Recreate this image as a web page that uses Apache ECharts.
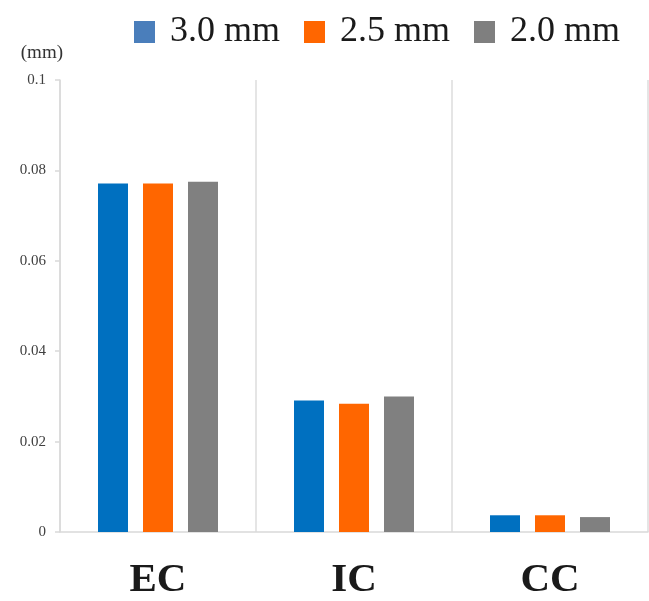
<!DOCTYPE html>
<html>
<head>
<meta charset="utf-8">
<script src="https://cdn.jsdelivr.net/npm/echarts@6/dist/echarts.min.js"></script>
<style>
html,body{margin:0;padding:0;background:#fff;}
#chart{width:649px;height:601px;}
</style>
</head>
<body>
<div id="chart"></div>
<script>
var categories = ['EC', 'IC', 'CC'];
var seriesNames = ['3.0 mm', '2.5 mm', '2.0 mm'];
var values30 = [0.0771, 0.0291, 0.0037];
var values25 = [0.0771, 0.0284, 0.0037];
var values20 = [0.0775, 0.0300, 0.0033];
var yTicks = [0, 0.02, 0.04, 0.06, 0.08, 0.1];

var barColors = ['#0070C0', '#FF6600', '#808080'];
var legendColors = ['#4A7EBB', '#FF6600', '#7F7F7F'];
var serif = '"Liberation Serif", "DejaVu Serif", serif';

var chart = echarts.init(document.getElementById('chart'));
var allValues = [values30, values25, values20];
chart.setOption({
  animation: false,
  backgroundColor: '#ffffff',
  legend: {
    left: 129, top: 9,
    itemWidth: 21, itemHeight: 22, itemGap: 24,
    icon: 'rect',
    textStyle: { fontFamily: serif, fontSize: 36, color: '#1a1a1a', padding: [0, 0, 0, 10] },
    data: seriesNames.map(function (n, i) { return { name: n, itemStyle: { color: legendColors[i] } }; })
  },
  grid: { left: 60, right: 1, top: 80, bottom: 68, containLabel: false },
  xAxis: {
    type: 'category',
    data: categories,
    axisLine: { lineStyle: { color: '#d9d9d9', width: 1.5 } },
    axisTick: { show: false },
    splitLine: { show: true, lineStyle: { color: '#dcdcdc', width: 1.5 } },
    axisLabel: { fontFamily: serif, fontWeight: 'bold', fontSize: 41, color: '#1a1a1a', margin: 28 }
  },
  yAxis: {
    type: 'value',
    min: yTicks[0], max: yTicks[yTicks.length - 1], interval: 0.02,
    name: '(mm)', nameLocation: 'end', nameGap: 27,
    nameTextStyle: { fontFamily: serif, fontSize: 19, color: '#333', align: 'right', verticalAlign: 'middle', padding: [0, -3, 0, 0] },
    axisLine: { show: true, lineStyle: { color: '#d9d9d9', width: 1.5 } },
    axisTick: { show: true, length: 5, lineStyle: { color: '#d9d9d9', width: 1.5 } },
    splitLine: { show: false },
    axisLabel: { fontFamily: serif, fontSize: 15, color: '#404040', margin: 14,
      formatter: function (v) { return String(+v.toFixed(2)); } }
  },
  series: seriesNames.map(function (n, i) {
    return {
      name: n, type: 'bar', data: allValues[i],
      barWidth: 30, barGap: '50%',
      itemStyle: { color: barColors[i] }
    };
  })
});
</script>
</body>
</html>
